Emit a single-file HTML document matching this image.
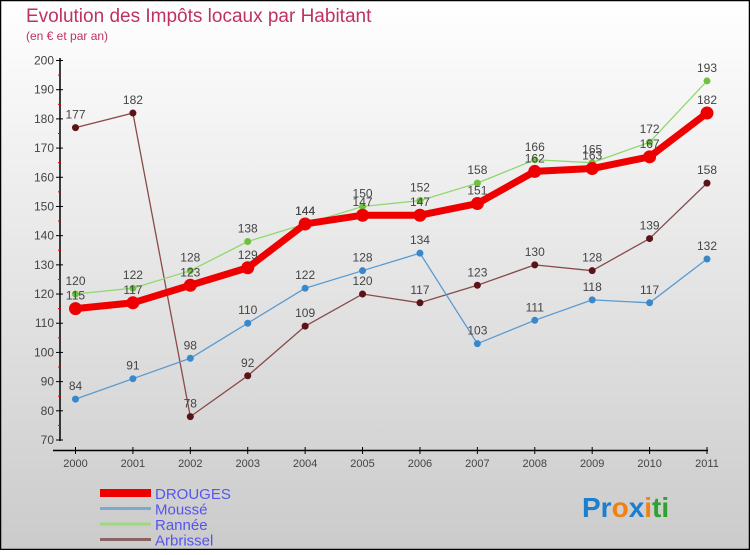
<!DOCTYPE html>
<html><head><meta charset="utf-8"><style>
html,body{margin:0;padding:0}
body{width:750px;height:550px;overflow:hidden;font-family:"Liberation Sans",sans-serif}
</style></head><body>
<svg id="chart" width="750" height="550" xmlns="http://www.w3.org/2000/svg">
<defs><linearGradient id="bg" x1="0" y1="0" x2="0" y2="1"><stop offset="0" stop-color="#ffffff"/><stop offset="1" stop-color="#cbcbcb"/></linearGradient></defs>
<rect x="0.5" y="0.5" width="749" height="549" fill="url(#bg)" stroke="#000" stroke-width="1.5"/>
<text x="26" y="22" font-size="19" fill="#c0325e">Evolution des Impôts locaux par Habitant</text>
<text x="26" y="40" font-size="12" fill="#c0325e">(en € et par an)</text>
<g id="axes"></g><g id="series"></g><g id="legend"></g>
<text x="582" y="517" font-size="28" font-weight="bold"><tspan fill="#1a7fd0">Pr</tspan><tspan fill="#f08010">o</tspan><tspan fill="#1a7fd0">x</tspan><tspan fill="#f08010">i</tspan><tspan fill="#30a030">ti</tspan></text>
</svg>
<script>
const years=[2000,2001,2002,2003,2004,2005,2006,2007,2008,2009,2010,2011];
const drouges=[115,117,123,129,144,147,147,151,162,163,167,182];
const mousse=[84,91,98,110,122,128,134,103,111,118,117,132];
const rannee=[120,122,128,138,144,150,152,158,166,165,172,193];
const arbrissel=[177,182,78,92,109,120,117,123,130,128,139,158];
const yTicks=[70,80,90,100,110,120,130,140,150,160,170,180,190,200];
const NS="http://www.w3.org/2000/svg";
const x=i=>75.5+i*(707-75.5)/11;
const y=v=>440-(v-70)*(440-60.5)/130;
function mk(t,a,p){const e=document.createElementNS(NS,t);for(const k in a)e.setAttribute(k,a[k]);p.appendChild(e);return e;}
const ax=document.getElementById('axes');
const yl=mk('line',{x1:60,y1:58,x2:60,y2:441,stroke:'#000','stroke-width':1.5},ax);


yTicks.forEach(v=>{
 const t=mk('line',{x1:56,y1:y(v),x2:63,y2:y(v),stroke:'#000'},ax);
 
 
 if(v<200){const m=mk('line',{x1:58,y1:y(v+5),x2:61,y2:y(v+5),stroke:'#d00'},ax);
 
 }
 const l=mk('text',{x:54,y:y(v)+4,'font-size':12,fill:'#444','text-anchor':'end'},ax);
 
 
 l.textContent=v;
});
const xl=mk('line',{x1:53,y1:450.5,x2:708,y2:450.5,stroke:'#000','stroke-width':1.5},ax);


years.forEach((yr,i)=>{
 const t=mk('line',{x1:x(i),y1:447,x2:x(i),y2:454,stroke:'#000'},ax);
 
 
 const l=mk('text',{x:x(i),y:467,'font-size':11,fill:'#444','text-anchor':'middle'},ax);
 
 
 l.textContent=yr;
});
const sg=document.getElementById('series');
function series(name,vals,color,w,r,dot){
 const g=mk('g',{},sg);
 
 
 const p=mk('polyline',{points:vals.map((v,i)=>x(i)+','+y(v)).join(' '),fill:'none',stroke:color,'stroke-width':w,'stroke-linejoin':'round'},g);
 
 
 vals.forEach((v,i)=>{
  const c=mk('circle',{cx:x(i),cy:y(v),r:r,fill:dot},g);
  
  
  const t=mk('text',{x:x(i),y:y(v)-9,'font-size':12,fill:'#444','text-anchor':'middle'},g);
  
  
  t.textContent=v;
 });
}
series('arbrissel',arbrissel,'#8a4a4a',1.3,3.5,'#5a1418');
series('mousse',mousse,'#5a9ad0',1.3,3.5,'#3a88cc');
series('rannee',rannee,'#90d870',1.3,3.5,'#70c040');
series('drouges',drouges,'#ee0000',7,6.5,'#ee0000');
const lg=document.getElementById('legend');
[['DROUGES','#ee0000',8],['Moussé','#7aaad0',3],['Rannée','#a0d880',3],['Arbrissel','#8a6464',3]].forEach((e,i)=>{
 const yy=493+i*15.5;
 const l=mk('line',{x1:100,y1:yy,x2:151,y2:yy,stroke:e[1],'stroke-width':e[2]},lg);
 
 
 const t=mk('text',{x:155,y:yy+6,'font-size':15,fill:'#5555ee'},lg);
 
 
 t.textContent=e[0];
});
</script>
</body></html>
